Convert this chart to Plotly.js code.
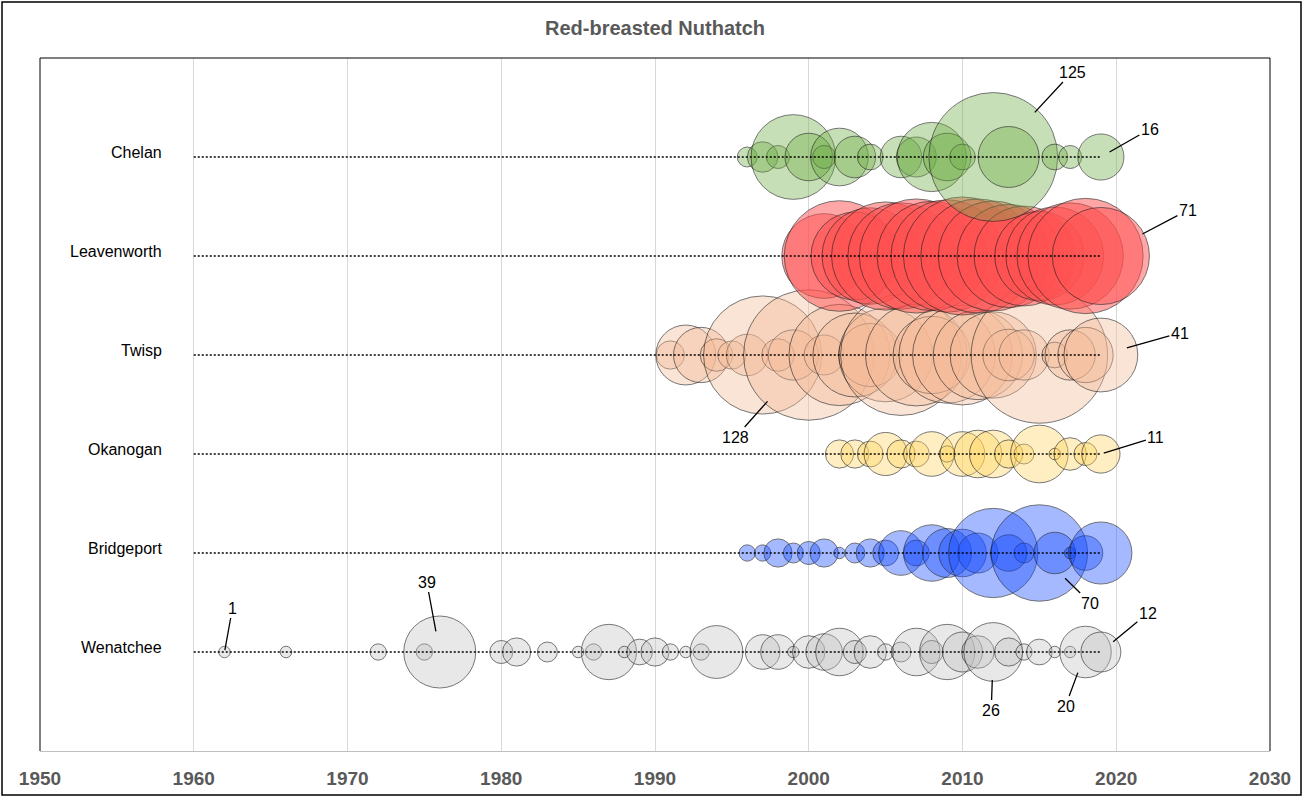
<!DOCTYPE html>
<html><head><meta charset="utf-8">
<script src="https://cdn.plot.ly/plotly-3.0.1.min.js"></script>
<style>html,body{margin:0;padding:0;background:#fff}#chart{width:1304px;height:798px}</style>
</head><body><div id="chart"></div>
<script>
// ---- data (counts per year, per site) ----
const sites = ['Wenatchee', 'Bridgeport', 'Okanogan', 'Twisp', 'Leavenworth', 'Chelan'];

const wenatcheeYears  = [1962,1966,1972,1975,1976,1980,1981,1983,1985,1986,1987,1988,1989,1990,1991,1992,1993,1994,1997,1998,1999,2000,2001,2002,2003,2004,2005,2006,2007,2008,2009,2010,2011,2012,2013,2014,2015,2016,2017,2018,2019];
const wenatcheeCounts = [1,1,2,2,39,4,6,3,1,2,23,1,5,6,2,1,2,21,9,9,1,8,10,17,4,8,2,3,17,4,23,12,8,26,6,2,5,1,1,20,12];

const bridgeportYears  = [1996,1997,1998,1999,2000,2001,2002,2003,2004,2005,2006,2007,2008,2009,2010,2011,2012,2013,2014,2015,2016,2017,2018,2019];
const bridgeportCounts = [2,2,6,3,4,6,1,3,6,5,15,5,24,18,17,12,60,10,3,70,13,1,9,29];

const okanoganYears  = [2002,2003,2004,2005,2006,2007,2008,2009,2010,2011,2012,2013,2014,2015,2016,2017,2018,2019];
const okanoganCounts = [6,6,5,14,6,5,15,2,15,17,17,6,3,25,1,8,4,11];

const twispYears  = [1991,1992,1993,1994,1995,1996,1997,1998,1999,2000,2001,2002,2003,2004,2005,2006,2007,2008,2009,2010,2011,2012,2013,2014,2015,2016,2017,2018,2019];
const twispCounts = [6,27,23,8,6,13,105,8,19,128,12,77,53,30,66,110,78,45,70,75,60,56,20,19,140,5,19,23,41];

const leavenworthYears  = [2001,2002,2003,2004,2005,2006,2007,2008,2009,2010,2011,2012,2013,2014,2015,2016,2017,2018,2019];
const leavenworthCounts = [54,92,58,70,88,85,98,90,95,105,98,91,80,75,60,72,85,100,71];

const chelanYears  = [1996,1997,1998,1999,2000,2001,2002,2003,2004,2006,2007,2008,2009,2010,2012,2013,2016,2017,2019];
const chelanCounts = [3,7,4,54,17,4,25,13,5,13,12,36,17,5,125,28,5,4,16];

const lineStartYear = 1960;
const lineEndYear = 2019;
const xTickValues = [1950,1960,1970,1980,1990,2000,2010,2020,2030];

// labelled points: site, year
const labelSites = ['Chelan','Chelan','Leavenworth','Twisp','Twisp','Okanogan','Bridgeport','Wenatchee','Wenatchee','Wenatchee','Wenatchee','Wenatchee'];
const labelYears = [2012,2019,2019,2019,2000,2019,2015,1976,1962,2019,2012,2018];

// ---- styles ----
const siteData = {
  Wenatchee:   {years: wenatcheeYears,   counts: wenatcheeCounts,   color: 'rgba(191,191,191,0.5)'},
  Bridgeport:  {years: bridgeportYears,  counts: bridgeportCounts,  color: 'rgba(20,75,255,0.55)'},
  Okanogan:    {years: okanoganYears,    counts: okanoganCounts,    color: 'rgba(255,214,96,0.55)'},
  Twisp:       {years: twispYears,       counts: twispCounts,       color: 'rgba(244,186,152,0.55)'},
  Leavenworth: {years: leavenworthYears, counts: leavenworthCounts, color: 'rgba(255,80,80,0.72)'},
  Chelan:      {years: chelanYears,      counts: chelanCounts,      color: 'rgba(112,173,71,0.55)'}
};
// label placement offsets (pixels) and standoff
const labelStyle = [
  {ax: 79, ay: -85, s: 61}, {ax: 49, ay: -28, s: 10}, {ax: 87, ay: -46, s: 47},
  {ax: 79, ay: -22, s: 27}, {ax: -73, ay: 82, s: 62}, {ax: 55, ay: -17, s: 3},
  {ax: 51, ay: 50, s: 36},  {ax: -13, ay: -70, s: 21}, {ax: 8, ay: -44, s: 2},
  {ax: 47, ay: -39, s: 16}, {ax: -2, ay: 58, s: 28},  {ax: -20, ay: 54, s: 22}
];

const SIZEREF = 0.01505;
const traces = [];
sites.forEach((name, i) => {
  const d = siteData[name];
  traces.push({
    type: 'scatter', mode: 'markers', name: name,
    x: d.years, y: d.years.map(() => i + 1),
    marker: {size: d.counts, sizemode: 'area', sizeref: SIZEREF, color: d.color,
             line: {color: 'rgba(30,30,30,0.85)', width: 1}},
    hoverinfo: 'skip', showlegend: false, cliponaxis: false
  });
});
sites.forEach((name, i) => {
  traces.push({
    type: 'scatter', mode: 'lines',
    x: [lineStartYear, lineEndYear], y: [i + 1, i + 1],
    line: {color: '#000', width: 1.7, dash: '2px,2px'},
    hoverinfo: 'skip', showlegend: false
  });
});

const annotations = [];
sites.forEach((name, i) => {
  annotations.push({
    xref: 'paper', yref: 'y', x: 0.1008, y: i + 1 + 0.05, xanchor: 'right', yanchor: 'middle',
    text: name, showarrow: false,
    font: {family: 'Liberation Sans, Arial, sans-serif', size: 16, color: '#000'}
  });
});
labelSites.forEach((s, k) => {
  const d = siteData[s];
  const idx = d.years.indexOf(labelYears[k]);
  const st = labelStyle[k];
  annotations.push({
    xref: 'x', yref: 'y', x: labelYears[k], y: sites.indexOf(s) + 1,
    text: String(d.counts[idx]), showarrow: true, arrowhead: 0, arrowwidth: 1.3, arrowcolor: '#000',
    ax: st.ax, ay: st.ay, standoff: st.s,
    font: {family: 'Liberation Sans, Arial, sans-serif', size: 16, color: '#000'}
  });
});

const L = 40, R = 34, T = 58, B = 47, W = 1304, H = 798;
const pw = W - L - R, ph = H - T - B;
const shapes = [
  {type: 'line', xref: 'paper', yref: 'paper', x0: 0, x1: 0, y0: 0, y1: 1, line: {color: '#000', width: 1}},
  {type: 'line', xref: 'paper', yref: 'paper', x0: 0, x1: 1, y0: 1, y1: 1, line: {color: '#000', width: 1}},
  {type: 'line', xref: 'paper', yref: 'paper', x0: 1, x1: 1, y0: 0, y1: 1, line: {color: '#000', width: 1}},
  {type: 'rect', xref: 'paper', yref: 'paper',
   x0: (2 - L) / pw, x1: (W - 3 - L) / pw, y0: -(H - 3 - (H - B)) / ph, y1: 1 + (T - 2) / ph,
   line: {color: '#000', width: 1.5}, layer: 'above'}
];

const layout = {
  width: W, height: H,
  margin: {l: L, r: R, t: T, b: B},
  paper_bgcolor: '#fff', plot_bgcolor: '#fff',
  title: {text: 'Red-breasted Nuthatch', x: 0.5, xref: 'paper', y: 1 - 28 / H, yref: 'container', yanchor: 'middle',
          font: {family: 'Liberation Sans Narrow, Arial Narrow, sans-serif', size: 20, weight: 'bold', color: '#595959'}},
  xaxis: {range: [1950, 2030], tickvals: xTickValues, ticktext: xTickValues.map(String),
          showgrid: true, gridcolor: '#d9d9d9', gridwidth: 1, zeroline: false,
          showline: true, linecolor: '#bfbfbf', linewidth: 1, ticks: '', ticklabelstandoff: 10,
          tickfont: {family: 'Liberation Sans Narrow, Arial Narrow, sans-serif', size: 19, weight: 'bold', color: '#595959'},
          fixedrange: true},
  yaxis: {range: [0, 7], showgrid: false, zeroline: false, showticklabels: false, ticks: '', showline: false, fixedrange: true},
  annotations: annotations,
  shapes: shapes,
  showlegend: false
};

Plotly.newPlot('chart', traces, layout, {displayModeBar: false, staticPlot: true});
</script>
</body></html>
